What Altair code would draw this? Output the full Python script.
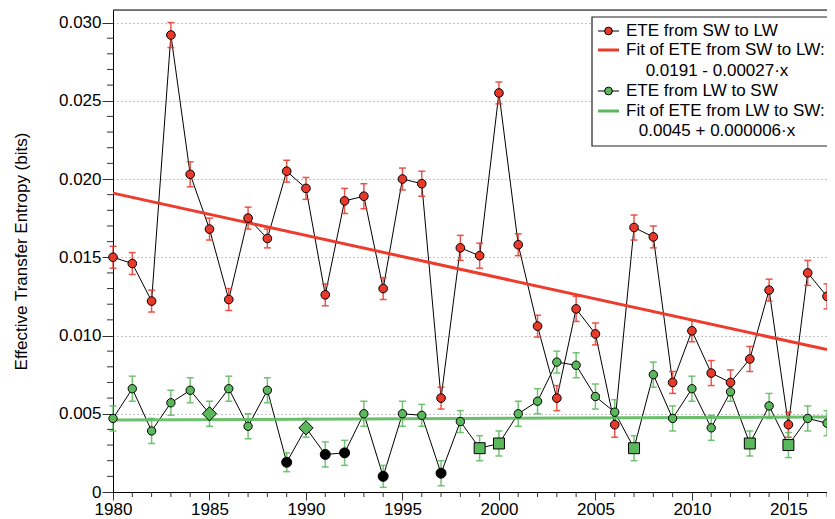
import altair as alt
import pandas as pd

# ---------------- data ----------------
years = list(range(1980, 2018))
ete_sw_lw = [0.0150, 0.0146, 0.0122, 0.0292, 0.0203, 0.0168, 0.0123, 0.0175, 0.0162, 0.0205,
             0.0194, 0.0126, 0.0186, 0.0189, 0.0130, 0.0200, 0.0197, 0.0060, 0.0156, 0.0151,
             0.0255, 0.0158, 0.0106, 0.0060, 0.0117, 0.0101, 0.0043, 0.0169, 0.0163, 0.0070,
             0.0103, 0.0076, 0.0070, 0.0085, 0.0129, 0.0043, 0.0140, 0.0125]
err_sw_lw = [0.0007, 0.0007, 0.0007, 0.0008, 0.0008, 0.0007, 0.0007, 0.0007, 0.0006, 0.0007,
             0.0007, 0.0007, 0.0008, 0.0008, 0.0007, 0.0007, 0.0008, 0.0007, 0.0008, 0.0008,
             0.0007, 0.0007, 0.0007, 0.0008, 0.0008, 0.0007, 0.0008, 0.0008, 0.0007, 0.0007,
             0.0007, 0.0008, 0.0008, 0.0008, 0.0007, 0.0008, 0.0008, 0.0008]
ete_lw_sw = [0.0047, 0.0066, 0.0039, 0.0057, 0.0065, 0.0050, 0.0066, 0.0042, 0.0065, 0.0019,
             0.0041, 0.0024, 0.0025, 0.0050, 0.0010, 0.0050, 0.0049, 0.0012, 0.0045, 0.0028,
             0.0031, 0.0050, 0.0058, 0.0083, 0.0081, 0.0061, 0.0051, 0.0028, 0.0075, 0.0047,
             0.0066, 0.0041, 0.0064, 0.0031, 0.0055, 0.0030, 0.0047, 0.0044]
err_lw_sw = [0.0008, 0.0008, 0.0008, 0.0008, 0.0008, 0.0008, 0.0008, 0.0008, 0.0008, 0.0006,
             0.0006, 0.0008, 0.0008, 0.0008, 0.0007, 0.0008, 0.0007, 0.0008, 0.0007, 0.0008,
             0.0008, 0.0008, 0.0008, 0.0007, 0.0008, 0.0008, 0.0008, 0.0008, 0.0008, 0.0008,
             0.0008, 0.0008, 0.0006, 0.0008, 0.0008, 0.0008, 0.0008, 0.0008]
# marker kind of each LW->SW point
kind_lw_sw = ["circle", "circle", "circle", "circle", "circle", "diamond", "circle", "circle", "circle", "black",
              "diamond", "black", "black", "circle", "black", "circle", "circle", "black", "circle", "square",
              "square", "circle", "circle", "circle", "circle", "circle", "circle", "square", "circle", "circle",
              "circle", "circle", "circle", "square", "circle", "square", "circle", "circle"]

fit_years = [1980, 2017]
fit_sw_lw = [0.0191, 0.0091]
fit_lw_sw = [0.0046, 0.0048]

x_major = [1980, 1985, 1990, 1995, 2000, 2005, 2010, 2015]
x_minor = [y for y in years if y % 5 != 0]
y_major = [0.0, 0.005, 0.010, 0.015, 0.020, 0.025, 0.030]
y_minor = [i / 1000 for i in range(0, 31) if i % 5 != 0]

legend_labels = ["ETE from SW to LW", "Fit of ETE from SW to LW:", "0.0191 - 0.00027·x",
                 "ETE from LW to SW", "Fit of ETE from LW to SW:", "0.0045 + 0.000006·x"]

RED = "#e8392b"
GREEN = "#5cb85c"
FONT = "Liberation Sans"
FS = 17
W, H = 714, 482

df_sw = pd.DataFrame({"year": years, "v": ete_sw_lw,
                      "lo": [a - b for a, b in zip(ete_sw_lw, err_sw_lw)],
                      "hi": [a + b for a, b in zip(ete_sw_lw, err_sw_lw)]})
df_lw = pd.DataFrame({"year": years, "v": ete_lw_sw, "kind": kind_lw_sw,
                      "lo": [a - b for a, b in zip(ete_lw_sw, err_lw_sw)],
                      "hi": [a + b for a, b in zip(ete_lw_sw, err_lw_sw)]})
df_fit = pd.DataFrame({"year": fit_years, "sw": fit_sw_lw, "lw": fit_lw_sw})

xscale = alt.Scale(domain=[1980, 2017], nice=False, zero=False)
yscale = alt.Scale(domain=[0, 0.0308], nice=False, zero=True)
xaxis = alt.Axis(values=x_major, format="d", title=None, tickSize=8, labelFontSize=FS,
                 labelFont=FONT, labelColor="black", labelPadding=1, grid=False,
                 domainColor="black", tickColor="#333", labelFlush=False)
yaxis = alt.Axis(values=y_major, labelExpr="datum.value == 0 ? '0' : format(datum.value, '.3f')",
                 title="Effective Transfer Entropy (bits)", titleFont=FONT, titleFontSize=FS,
                 titleFontWeight="normal", titleColor="black", titleX=-92, titleY=H / 2,
                 titleAngle=270, titleAlign="center", titleBaseline="middle",
                 tickSize=11, labelFontSize=FS, labelFont=FONT, labelColor="black", labelPadding=1,
                 grid=True, gridDash=[1, 3], gridColor="#888", gridWidth=1,
                 domainColor="black", tickColor="#333")


def X(f="year"):
    return alt.X(f"{f}:Q", scale=xscale, axis=xaxis)


def Y(f):
    return alt.Y(f"{f}:Q", scale=yscale, axis=yaxis)


base_sw = alt.Chart(df_sw)
base_lw = alt.Chart(df_lw)

layers = []
# connecting lines
layers.append(base_sw.mark_line(color="black", strokeWidth=1).encode(x=X(), y=Y("v")))
layers.append(base_lw.mark_line(color="black", strokeWidth=1).encode(x=X(), y=Y("v")))
# error bars
for b, col in [(base_sw, RED), (base_lw, GREEN)]:
    layers.append(b.mark_rule(color=col, strokeWidth=1.5, opacity=0.85).encode(
        x=X(), y=Y("lo"), y2="hi:Q"))
    layers.append(b.mark_tick(color=col, orient="horizontal", size=7, thickness=1.5, opacity=0.85).encode(
        x=X(), y=Y("lo")))
    layers.append(b.mark_tick(color=col, orient="horizontal", size=7, thickness=1.5, opacity=0.85).encode(
        x=X(), y=Y("hi")))
# fit lines
layers.append(alt.Chart(df_fit).mark_line(color="#ee3b2c", strokeWidth=3).encode(x=X(), y=Y("sw")))
layers.append(alt.Chart(df_fit).mark_line(color=GREEN, strokeWidth=3, opacity=0.9).encode(x=X(), y=Y("lw")))
# points
layers.append(base_sw.mark_point(shape="circle", filled=True, fill=RED, stroke="black",
                                 strokeWidth=1, size=75, opacity=1).encode(x=X(), y=Y("v")))
layers.append(base_lw.transform_filter("datum.kind == 'circle'").mark_point(
    shape="circle", filled=True, fill=GREEN, stroke="black", strokeWidth=1, size=70, opacity=1
).encode(x=X(), y=Y("v")))
layers.append(base_lw.transform_filter("datum.kind == 'black'").mark_point(
    shape="circle", filled=True, fill="black", stroke="black", strokeWidth=1, size=100, opacity=1
).encode(x=X(), y=Y("v")))
layers.append(base_lw.transform_filter("datum.kind == 'square'").mark_point(
    shape="square", filled=True, fill=GREEN, stroke="black", strokeWidth=1, size=120, opacity=1
).encode(x=X(), y=Y("v")))
layers.append(base_lw.transform_filter("datum.kind == 'diamond'").mark_point(
    shape="diamond", filled=True, fill=GREEN, stroke="black", strokeWidth=1, size=200, opacity=1
).encode(x=X(), y=Y("v")))

# minor ticks
layers.append(alt.Chart(pd.DataFrame({"year": x_minor})).mark_rule(color="#333", strokeWidth=1).encode(
    x=X(), y=alt.value(H), y2=alt.value(H + 5)))
layers.append(alt.Chart(pd.DataFrame({"t": y_minor})).mark_rule(color="#333", strokeWidth=1).encode(
    y=Y("t"), x=alt.value(-6), x2=alt.value(0)))

# top frame
one = alt.Chart(pd.DataFrame({"a": [0]}))
layers.append(one.mark_rule(color="black", strokeWidth=1).encode(
    x=alt.value(0), x2=alt.value(W + 8), y=alt.value(0)))

# legend box (its right side runs past the edge of the picture, as in the original)
LX0, LX1, LY0, LY1 = 479, W + 10, 7, 136
layers.append(one.mark_rect(fill="white", stroke="#222", strokeWidth=1.2).encode(
    x=alt.value(LX0), x2=alt.value(LX1), y=alt.value(LY0), y2=alt.value(LY1)))
rows_y = [21, 40, 61, 81, 101, 121]
sym_x0, sym_x1, sym_c, txt_x = 485, 506, 495.5, 513
for row, col, is_point in [(0, RED, True), (1, RED, False), (3, GREEN, True), (4, GREEN, False)]:
    if is_point:
        layers.append(one.mark_rule(color="black", strokeWidth=1).encode(
            x=alt.value(sym_x0), x2=alt.value(sym_x1), y=alt.value(rows_y[row])))
        layers.append(one.mark_point(shape="circle", filled=True, fill=col, stroke="black",
                                     strokeWidth=1, size=60, opacity=1).encode(
            x=alt.value(sym_c), y=alt.value(rows_y[row])))
    else:
        layers.append(one.mark_rule(color=col, strokeWidth=3).encode(
            x=alt.value(sym_x0), x2=alt.value(sym_x1), y=alt.value(rows_y[row])))
for i, lab in enumerate(legend_labels):
    centered = i in (2, 5)
    layers.append(alt.Chart(pd.DataFrame({"t": [lab]})).mark_text(
        font=FONT, fontSize=FS, color="black", baseline="middle",
        align="center" if centered else "left").encode(
        text="t:N", x=alt.value(604 if centered else txt_x), y=alt.value(rows_y[i])))

chart = alt.layer(*layers).properties(
    width=W, height=H,
    autosize=alt.AutoSizeParams(type="none"),
    padding={"left": 105, "top": 2, "right": 0, "bottom": 27},
).configure_view(stroke=None).configure(background="white")

chart.save("out.html", embed_options={"renderer": "svg", "actions": False})
